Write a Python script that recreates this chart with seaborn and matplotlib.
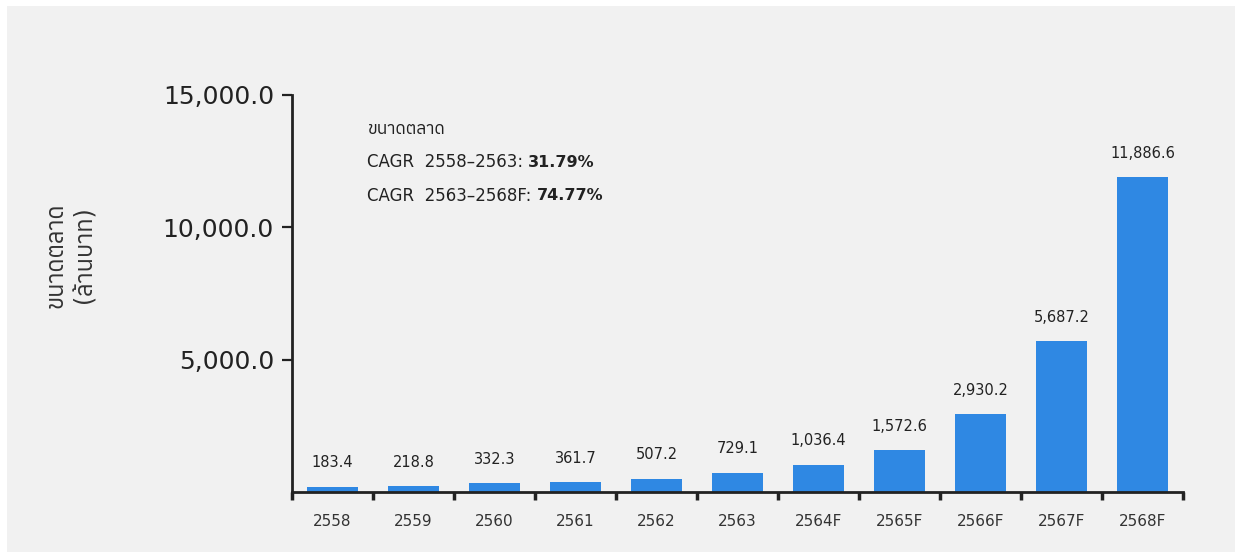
import matplotlib
matplotlib.use("Agg")
import matplotlib.pyplot as plt
import matplotlib.font_manager as fm
from matplotlib.ft2font import FT2Font
from matplotlib.ticker import FixedLocator
from matplotlib.patches import Rectangle
import seaborn as sns
import pandas as pd

# data
years = ["2558", "2559", "2560", "2561", "2562", "2563",
         "2564F", "2565F", "2566F", "2567F", "2568F"]
market_size = [183.4, 218.8, 332.3, 361.7, 507.2, 729.1,
               1036.4, 1572.6, 2930.2, 5687.2, 11886.6]
y_ticks = [5000, 10000, 15000]
note_title = "ขนาดตลาด"
note_lines = ["CAGR  2558–2563: ", "CAGR  2563–2568F: "]
note_values = ["31.79%", "74.77%"]
y_label = "ขนาดตลาด\n(ล้านบาท)"

df = pd.DataFrame({"year": years, "size": market_size})


# find some installed font that actually has Thai glyphs
def has_thai(path):
    try:
        return 0x0E02 in FT2Font(path).get_charmap()
    except Exception:
        return False


thai_fonts = sorted({f.name for f in fm.fontManager.ttflist if has_thai(f.fname)})

sns.set_theme(style="white")
plt.rcParams["font.family"] = ["DejaVu Sans"] + thai_fonts[:1]

bg = "#f1f1f1"
ink = "#222222"
fig = plt.figure(figsize=(12.35, 5.52), dpi=100, facecolor=bg)
# thin white strip on top and left, like the screenshot
fig.patches.append(Rectangle((0, 1 - 6 / 552), 1, 6 / 552, transform=fig.transFigure,
                             facecolor="white", edgecolor="none"))
fig.patches.append(Rectangle((0, 0), 7 / 1235, 1, transform=fig.transFigure,
                             facecolor="white", edgecolor="none"))
ax = fig.add_axes([0.2364, 0.1087, 0.7215, 0.7193], facecolor=bg)

sns.barplot(data=df, x="year", y="size", color="#2f88e3", width=0.62,
            saturation=1, linewidth=0, ax=ax)

ax.set_ylim(0, 15000)
ax.set_xlim(-0.5, len(years) - 0.5)
ax.set_yticks(y_ticks)
ax.set_yticklabels([f"{v:,.1f}" for v in y_ticks], fontsize=18, color=ink)
ax.tick_params(axis="y", direction="out", length=7, width=1.6, color=ink, pad=6,
               left=True)

# x ticks sit between the bars
ax.xaxis.set_minor_locator(FixedLocator([i - 0.5 for i in range(len(years) + 1)]))
ax.tick_params(axis="x", which="major", length=0, pad=16, labelsize=11,
               labelcolor="#333333")
ax.tick_params(axis="x", which="minor", direction="out", length=6, width=2.5,
               color=ink, bottom=True)

for side in ["top", "right"]:
    ax.spines[side].set_visible(False)
for side in ["left", "bottom"]:
    ax.spines[side].set_color(ink)
    ax.spines[side].set_linewidth(2)

ax.set_xlabel("")
ax.set_ylabel("")
fig.text(70 / 1235, 1 - 255 / 552, y_label, rotation=90, ha="center", va="center",
         multialignment="center", fontsize=17, color="#333333", linespacing=1.3)

ax.bar_label(ax.containers[0], labels=[f"{v:,.1f}" for v in market_size],
             padding=12, fontsize=10.5, color=ink)

# CAGR note
ax.text(0.085, 0.914, note_title, transform=ax.transAxes, fontsize=12.5,
        color=ink, va="center")
for i, (txt, val) in enumerate(zip(note_lines, note_values)):
    t = ax.text(0.084, 0.831 - i * 0.085, txt, transform=ax.transAxes,
                fontsize=12, color=ink, va="center")
    ax.annotate(val, xy=(1, 0.5), xycoords=t, va="center", ha="left",
                fontsize=11.5, fontweight="bold", color=ink)

fig.savefig("out.png", dpi=100, facecolor=bg)
